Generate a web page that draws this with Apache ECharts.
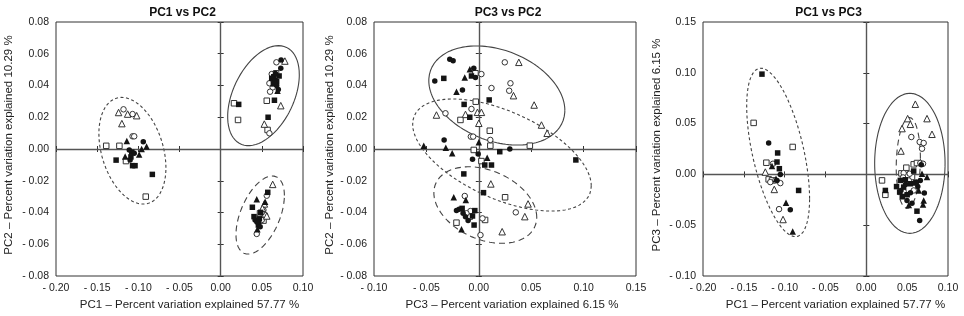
<!DOCTYPE html>
<html><head><meta charset="utf-8">
<script src="https://cdn.jsdelivr.net/npm/echarts@6/dist/echarts.min.js"></script>
<style>html,body{margin:0;padding:0;background:#fff}#c{width:964px;height:316px}</style>
</head><body><div id="c"></div><script>
// ---------- Panel 1: PC1 vs PC2 ----------
const p1SquareFilled = [[-0.127,-0.007],[-0.107,-0.0105],[-0.104,-0.0105],[-0.083,-0.016],[-0.109,-0.005],[-0.108,-0.002],
  [0.062,0.0445],[0.066,0.043],[0.071,0.046],[0.0645,0.0455],[0.068,0.0425],[0.0653,0.0307],[0.0219,0.0281],[0.0576,0.020],[0.064,0.041],
  [0.0572,-0.0273],[0.0385,-0.0367],[0.0486,-0.0399],[0.0405,-0.0426],[0.0458,-0.0479],[0.047,-0.044]];
const p1SquareOpen = [[-0.139,0.002],[-0.123,0.002],[-0.115,-0.0076],[-0.091,-0.030],
  [0.0673,0.0477],[0.056,0.0304],[0.0162,0.0288],[0.0211,0.0183],[0.057,0.012],
  [0.052,-0.0451],[0.0478,-0.0405]];
const p1CircleFilled = [[-0.094,0.0046],[-0.111,-0.0006],[-0.110,-0.007],[-0.105,-0.0027],
  [0.0734,0.0561],[0.073,0.0508],[0.064,0.0452],[0.0665,0.0475],[0.068,0.040],[0.070,0.0375],
  [0.0458,-0.0458],[0.0418,-0.0447],[0.048,-0.049],[0.044,-0.046]];
const p1CircleOpen = [[-0.118,0.025],[-0.107,0.022],[-0.107,0.008],[-0.105,0.008],
  [0.0677,0.0546],[0.062,0.0472],[0.0592,0.0414],[0.0632,0.0388],[0.060,0.0361],[0.0592,0.0099],
  [0.056,-0.0294],[0.0519,-0.0384],[0.054,-0.0416],[0.0499,-0.0447],[0.0438,-0.0535],[0.05,-0.040]];
const p1TriFilled = [[-0.114,0.005],[-0.090,0.0015],[-0.096,0],[-0.116,-0.0048],[-0.099,-0.0034],
  [0.069,0.0367],[0.065,0.0435],
  [0.0438,-0.0317],[0.0446,-0.0506],[0.054,-0.0332]];
const p1TriOpen = [[-0.124,0.023],[-0.113,0.022],[-0.102,0.021],[-0.120,0.016],
  [0.078,0.0554],[0.073,0.0273],[0.053,0.0157],
  [0.0632,-0.0223],[0.0531,-0.0346],[0.056,-0.0422],[0.0507,-0.0374]];
// ellipse: [centerX, centerY, halfExtentX, halfExtentY, correlation]
const p1Ellipses = [[-0.1072,-0.0011,0.0407,0.0336,-0.32],[0.052,0.0336,0.0435,0.0315,0.42],[0.048,-0.0416,0.0294,0.0246,0.5]];

// ---------- Panel 2: PC3 vs PC2 ----------
const p2SquareFilled = [[-0.0334,0.0445],[-0.007,0.046],[0.0099,0.0309],[-0.014,0.0281],[-0.0086,0.020],[0.020,-0.0017],[0.0057,-0.0101],[0.0121,-0.0101],[0.0926,-0.0069],[-0.0143,-0.0157],[0.0045,-0.0275],[-0.0159,-0.0374],[-0.0038,-0.0388],[-0.006,-0.0422],[-0.0045,-0.0479]];
const p2SquareOpen = [[-0.0032,0.0477],[-0.0029,0.0298],[-0.0175,0.0183],[0.0105,0.0115],[0.011,0.0021],[0.0487,0.0021],[-0.0048,-0.0006],[0.0025,-0.0076],[0.0251,-0.0304],[-0.0213,-0.0464],[-0.0086,-0.0426],[0.006,-0.0447]];
const p2CircleFilled = [[-0.0277,0.0565],[-0.0245,0.0556],[-0.042,0.0428],[-0.0156,0.0372],[-0.0048,0.0508],[-0.0032,0.0451],[-0.0331,0.0057],[-0.0006,-0.0031],[0.0296,0],[-0.006,-0.0065],[-0.0213,-0.0388],[-0.0188,-0.038],[-0.015,-0.0405],[-0.0127,-0.0426],[-0.0102,-0.0451]];
const p2CircleOpen = [[0.0025,0.0472],[0.0248,0.0546],[0.0302,0.0414],[0.0121,0.0384],[0.029,0.0367],[-0.007,0.0252],[-0.0318,0.0225],[-0.0076,0.0078],[-0.0054,0.0078],[0.011,0.0057],[-0.0134,-0.0296],[0.0353,-0.0399],[-0.008,-0.0391],[-0.0118,-0.0405],[0.0035,-0.0437],[0.0016,-0.0542]];
const p2TriFilled = [[-0.0134,0.0451],[-0.0213,0.0361],[-0.0086,0.0502],[0,0.0042],[-0.0525,0.0021],[-0.0315,0.0008],[-0.0254,-0.0027],[0.008,-0.0055],[-0.0239,-0.0304],[-0.0124,-0.0321],[-0.0165,-0.0506]];
const p2TriOpen = [[0.0382,0.0546],[0.0331,0.0336],[0.0528,0.0277],[-0.0013,0.0231],[0.0025,0.0231],[-0.0127,0.0218],[-0.0404,0.0214],[0,0.0162],[0.0598,0.0151],[0.0652,0.0099],[0.0115,-0.022],[0.047,-0.0346],[0.0439,-0.0426],[0.0223,-0.0521]];
const p2Ellipses = [[0.0172,0.0337,0.0649,0.0312,-0.3],[0.0221,-0.0038,0.0852,0.0353,-0.55],[0.0062,-0.0353,0.0491,0.0241,-0.32]];

// ---------- Panel 3: PC1 vs PC3 ----------
const p3SquareFilled = [[-0.1278,0.0987],[-0.1086,0.0211],[-0.1094,0.0122],[-0.1065,0.0056],[-0.0829,-0.0158],[0.0233,-0.0158],[0.0416,-0.0059],[0.0478,-0.0053],[0.058,0.0033],[0.062,-0.0362],[0.0457,-0.0125],[0.0408,-0.0174],[0.0539,-0.0092],[0.037,-0.012],[0.044,-0.022],[0.05,-0.02]];
const p3SquareOpen = [[-0.138,0.0507],[-0.0902,0.027],[-0.1224,0.0115],[-0.1196,-0.0049],[-0.1155,-0.0059],[0.0192,-0.0059],[0.0233,-0.0201],[0.049,0.0066],[0.058,0.0099],[0.062,0.0112],[0.0559,-0.0026],[0.0498,-0.001],[0.043,0.001]];
const p3CircleFilled = [[-0.1196,0.0309],[-0.1053,0],[-0.1094,-0.006],[-0.0931,-0.0349],[0.0673,0.0095],[0.0661,-0.0059],[0.0653,-0.0454],[0.071,-0.0184],[0.0498,-0.0257],[0.0424,-0.0158],[0.0559,-0.0283],[0.0612,-0.0076],[0.048,-0.01],[0.054,-0.018],[0.063,-0.012]];
const p3CircleOpen = [[-0.1143,0.0105],[-0.1176,-0.0076],[-0.1114,-0.0059],[-0.1053,-0.0086],[-0.1069,-0.0342],[0.0551,0.0368],[0.0653,0.0319],[0.0702,0.0309],[0.0682,0.0253],[0.0661,0.0112],[0.0694,0.0105],[0.0457,0.0013],[0.0531,0.0007],[0.058,-0.0158],[0.0457,-0.0168],[0.052,-0.006],[0.045,-0.003]];
const p3TriFilled = [[-0.1155,0.0082],[-0.1106,-0.0043],[-0.0984,-0.028],[-0.0902,-0.0563],[0.0702,-0.0257],[0.0694,-0.0296],[0.0641,-0.0158],[0.0743,-0.0026],[0.0682,0.0007],[0.052,-0.03],[0.058,-0.008]];
const p3TriOpen = [[-0.1237,0.0023],[-0.1127,-0.0148],[-0.102,-0.0444],[0.06,0.0691],[0.0743,0.0549],[0.0506,0.0549],[0.0437,0.0451],[0.0804,0.0395],[0.0539,0.0493],[0.0424,0.023]];
const p3Ellipses = [[-0.108,0.0216,0.0385,0.0829,-0.55],[0.0533,0.0109,0.0431,0.0689,0],[0.0514,0.0112,0.0148,0.0448,0.1]];

// ---------- Labels ----------
const titles = ['PC1 vs PC2', 'PC3 vs PC2', 'PC1 vs PC3'];
const xNames = ['PC1 \u2013 Percent variation explained 57.77 %', 'PC3 \u2013 Percent variation explained 6.15 %', 'PC1 \u2013 Percent variation explained 57.77 %'];
const yNames = ['PC2 \u2013 Percent variation explained 10.29 %', 'PC2 \u2013 Percent variation explained 10.29 %', 'PC3 \u2013 Percent variation explained 6.15 %'];
const xRanges = [[-0.20, 0.10, 0.05], [-0.10, 0.15, 0.05], [-0.20, 0.10, 0.05]];
const yRanges = [[-0.08, 0.08, 0.02], [-0.08, 0.08, 0.02], [-0.10, 0.15, 0.05]];

// ---------- Build ----------
const FONT = '"Liberation Sans", Arial, sans-serif';
const INK = '#141414';
const grids = [
  {left: 56, top: 22, width: 247, height: 254},
  {left: 374, top: 22, width: 262, height: 254},
  {left: 703, top: 22, width: 245, height: 254}
];
const xNameGap = [22, 22, 22], yNameGap = [41, 34, 40], xNameShift = [20, 14, 20];
const SHORT = [3, 2.5], LONG = [6, 4];
const panelEllipseStyles = [[SHORT, 'solid', LONG], ['solid', SHORT, LONG], [SHORT, 'solid', LONG]];
const panels = [
  {sq: p1SquareFilled, sqo: p1SquareOpen, ci: p1CircleFilled, cio: p1CircleOpen, tr: p1TriFilled, tro: p1TriOpen, el: p1Ellipses},
  {sq: p2SquareFilled, sqo: p2SquareOpen, ci: p2CircleFilled, cio: p2CircleOpen, tr: p2TriFilled, tro: p2TriOpen, el: p2Ellipses},
  {sq: p3SquareFilled, sqo: p3SquareOpen, ci: p3CircleFilled, cio: p3CircleOpen, tr: p3TriFilled, tro: p3TriOpen, el: p3Ellipses}
];
function fmt(v) {
  if (Math.abs(v) < 1e-9) return '0.00';
  return (v < 0 ? '- ' : '') + Math.abs(v).toFixed(2);
}
function ellipsePoints(e) {
  const [cx, cy, rx, ry, rho] = e, pts = [], s = Math.sqrt(1 - rho * rho);
  for (let i = 0; i <= 144; i++) {
    const t = i / 144 * Math.PI * 2;
    pts.push([cx + rx * Math.cos(t), cy + ry * (rho * Math.cos(t) + s * Math.sin(t))]);
  }
  return pts;
}
const xAxes = [], yAxes = [], series = [], titleOpts = [];
grids.forEach((g, i) => {
  const xr = xRanges[i], yr = yRanges[i];
  const tick = {show: true, inside: true, length: 3, lineStyle: {color: '#333'}};
  const baseX = {gridIndex: i, type: 'value', min: xr[0], max: xr[1], interval: xr[2], splitLine: {show: false}, axisLine: {show: false}, axisTick: tick};
  const baseY = {gridIndex: i, type: 'value', min: yr[0], max: yr[1], interval: yr[2], splitLine: {show: false}, axisLine: {show: false}, axisTick: tick};
  xAxes[i] = Object.assign({}, baseX, {position: 'bottom',
    axisLabel: {formatter: fmt, fontFamily: FONT, fontSize: 10.5, color: '#222', margin: 7, showMinLabel: true, showMaxLabel: true},
    name: xNames[i], nameLocation: 'middle', nameGap: xNameGap[i],
    nameTextStyle: {fontFamily: FONT, fontSize: 11.5, color: '#222', padding: [0, 0, 0, xNameShift[i]]}});
  xAxes[i + 3] = Object.assign({}, baseX, {position: 'top', axisLabel: {show: false}});
  yAxes[i] = Object.assign({}, baseY, {position: 'left',
    axisLabel: {formatter: fmt, fontFamily: FONT, fontSize: 10.5, color: '#222', margin: 7, showMinLabel: true, showMaxLabel: true},
    name: yNames[i], nameLocation: 'middle', nameGap: yNameGap[i],
    nameTextStyle: {fontFamily: FONT, fontSize: 11.5, color: '#222', padding: [0, 0, 0, 8]}});
  yAxes[i + 3] = Object.assign({}, baseY, {position: 'right', axisLabel: {show: false}});
  titleOpts.push({text: titles[i], left: g.left + g.width / 2 - 2, top: 2, textAlign: 'center',
    textStyle: {fontFamily: FONT, fontSize: 12, fontWeight: 'bold', color: '#111'}});

  const p = panels[i];
  series.push({type: 'line', xAxisIndex: i, yAxisIndex: i, data: [], silent: true, z: 1,
    markLine: {silent: true, symbol: 'none', label: {show: false}, animation: false,
      lineStyle: {color: '#555', width: 1.4, type: 'solid'},
      data: [{xAxis: 0}, {yAxis: 0}]}});
  p.el.forEach((e, k) => {
    series.push({type: 'line', xAxisIndex: i, yAxisIndex: i, data: ellipsePoints(e), showSymbol: false, symbol: 'none',
      silent: true, z: 2, lineStyle: {color: '#444', width: 1.1, type: panelEllipseStyles[i][k]}, animation: false});
  });
  const mk = (data, symbol, size, filled) => ({type: 'scatter', xAxisIndex: i, yAxisIndex: i, data, symbol, symbolSize: size, z: 5,
    animation: false,
    itemStyle: filled ? {color: INK, opacity: 1} : {color: '#fff', borderColor: '#333', borderWidth: 1, opacity: 1}});
  series.push(mk(p.sqo, 'rect', 5.5, false));
  series.push(mk(p.cio, 'circle', 5.5, false));
  series.push(mk(p.tro, 'triangle', 6.5, false));
  series.push(mk(p.sq, 'rect', 5.5, true));
  series.push(mk(p.ci, 'circle', 5.5, true));
  series.push(mk(p.tr, 'triangle', 6.5, true));
});
const chart = echarts.init(document.getElementById('c'), null, {renderer: 'canvas'});
chart.setOption({
  animation: false,
  backgroundColor: '#fff',
  title: titleOpts,
  grid: grids.map(g => Object.assign({show: true, borderColor: '#333', borderWidth: 1, backgroundColor: 'transparent'}, g)),
  xAxis: xAxes,
  yAxis: yAxes,
  series
});
</script></body></html>
